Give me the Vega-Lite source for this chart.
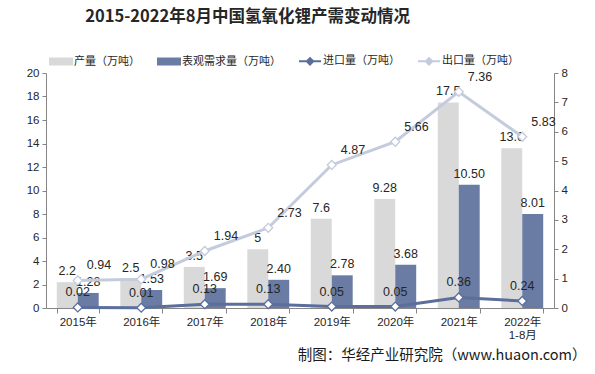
{
  "$schema": "https://vega.github.io/schema/vega-lite/v6.json",
  "width": 508,
  "height": 235,
  "autosize": "none",
  "padding": {"left": 46, "top": 73, "right": 41, "bottom": 66},
  "background": "white",
  "title": {
    "text": "2015-2022年8月中国氢氧化锂产需变动情况",
    "font": "Noto Sans CJK SC",
    "fontSize": 16.5,
    "fontWeight": "bold",
    "color": "#262626",
    "offset": 24,
    "anchor": "start",
    "dx": 59
  },
  "config": {
    "view": {"stroke": null},
    "axis": {
      "grid": false,
      "domainColor": "#868686",
      "tickColor": "#868686",
      "labelFont": "Liberation Sans, Noto Sans CJK SC",
      "labelFontSize": 11.5,
      "labelColor": "#262626",
      "tickSize": 4
    },
    "text": {"font": "Liberation Sans", "fontSize": 12.5, "color": "#262626"}
  },
  "data": {
    "values": [
      {"year": "2015年", "series": "产量（万吨）", "value": 2.2},
      {"year": "2016年", "series": "产量（万吨）", "value": 2.5},
      {"year": "2017年", "series": "产量（万吨）", "value": 3.5},
      {"year": "2018年", "series": "产量（万吨）", "value": 5},
      {"year": "2019年", "series": "产量（万吨）", "value": 7.6},
      {"year": "2020年", "series": "产量（万吨）", "value": 9.28},
      {"year": "2021年", "series": "产量（万吨）", "value": 17.5},
      {"year": "2022年|1-8月", "series": "产量（万吨）", "value": 13.6},
      {"year": "2015年", "series": "表观需求量（万吨）", "value": 1.28},
      {"year": "2016年", "series": "表观需求量（万吨）", "value": 1.53},
      {"year": "2017年", "series": "表观需求量（万吨）", "value": 1.69},
      {"year": "2018年", "series": "表观需求量（万吨）", "value": 2.40},
      {"year": "2019年", "series": "表观需求量（万吨）", "value": 2.78},
      {"year": "2020年", "series": "表观需求量（万吨）", "value": 3.68},
      {"year": "2021年", "series": "表观需求量（万吨）", "value": 10.50},
      {"year": "2022年|1-8月", "series": "表观需求量（万吨）", "value": 8.01},
      {"year": "2015年", "series": "进口量（万吨）", "value": 0.02},
      {"year": "2016年", "series": "进口量（万吨）", "value": 0.01},
      {"year": "2017年", "series": "进口量（万吨）", "value": 0.13},
      {"year": "2018年", "series": "进口量（万吨）", "value": 0.13},
      {"year": "2019年", "series": "进口量（万吨）", "value": 0.05},
      {"year": "2020年", "series": "进口量（万吨）", "value": 0.05},
      {"year": "2021年", "series": "进口量（万吨）", "value": 0.36},
      {"year": "2022年|1-8月", "series": "进口量（万吨）", "value": 0.24},
      {"year": "2015年", "series": "出口量（万吨）", "value": 0.94},
      {"year": "2016年", "series": "出口量（万吨）", "value": 0.98},
      {"year": "2017年", "series": "出口量（万吨）", "value": 1.94},
      {"year": "2018年", "series": "出口量（万吨）", "value": 2.73},
      {"year": "2019年", "series": "出口量（万吨）", "value": 4.87},
      {"year": "2020年", "series": "出口量（万吨）", "value": 5.66},
      {"year": "2021年", "series": "出口量（万吨）", "value": 7.36},
      {"year": "2022年|1-8月", "series": "出口量（万吨）", "value": 5.83}
    ]
  },
  "encoding": {
    "x": {
      "field": "year",
      "type": "nominal",
      "sort": null,
      "scale": {"paddingInner": 0.34, "paddingOuter": 0.17},
      "axis": {
        "labelAngle": 0,
        "labelExpr": "split(datum.label, '|')",
        "tickBand": "extent",
        "tickSize": 5,
        "labelPadding": 3,
        "title": "制图：华经产业研究院（www.huaon.com）",
        "titleFont": "Noto Sans CJK SC",
        "titleFontSize": 14.5,
        "titleFontWeight": "normal",
        "titleColor": "#1a1a1a",
        "titleAnchor": "end",
        "titleAlign": "right",
        "titleBaseline": "middle",
        "titleX": 540,
        "titleY": 47
      }
    },
    "color": {
      "field": "series",
      "type": "nominal",
      "scale": {
        "domain": ["产量（万吨）", "表观需求量（万吨）", "进口量（万吨）", "出口量（万吨）"],
        "range": ["#D9D9D9", "#6A7CA4", "#5B6E9C", "#C3CBDD"]
      },
      "legend": {
        "title": null,
        "orient": "none",
        "legendX": 3,
        "legendY": -24,
        "direction": "horizontal",
        "columns": 4,
        "columnPadding": 14,
        "labelFont": "Noto Sans CJK SC",
        "labelFontSize": 11,
        "labelColor": "#262626",
        "labelOffset": 1,
        "symbolSize": 484,
        "encode": {
          "symbols": {
            "update": {
              "shape": {"signal": "indexof(['进口量（万吨）','出口量（万吨）'], datum.value) >= 0 ? 'M-1,0H-0.3M0.3,0H1M-0.3,0L0,-0.3L0.3,0L0,0.3Z' : 'M-1,-0.27H1V0.27H-1Z'"},
              "fill": {"signal": "datum.value == '产量（万吨）' ? '#D9D9D9' : datum.value == '表观需求量（万吨）' ? '#6A7CA4' : 'white'"},
              "stroke": {"signal": "datum.value == '进口量（万吨）' ? '#5B6E9C' : datum.value == '出口量（万吨）' ? '#C3CBDD' : 'transparent'"},
              "strokeWidth": {"value": 2},
              "opacity": {"value": 1}
            }
          }
        }
      }
    }
  },
  "layer": [
    {
      "transform": [{"filter": "datum.series == '产量（万吨）' || datum.series == '表观需求量（万吨）'"}],
      "encoding": {
        "xOffset": {"field": "series", "type": "nominal", "sort": ["产量（万吨）", "表观需求量（万吨）"], "scale": {"paddingInner": 0, "paddingOuter": 0}},
        "y": {
          "field": "value",
          "type": "quantitative",
          "scale": {"domain": [0, 20]},
          "axis": {"orient": "left", "values": [0, 2, 4, 6, 8, 10, 12, 14, 16, 18, 20], "title": null, "labelPadding": 3}
        }
      },
      "layer": [
        {"mark": {"type": "bar", "opacity": 1}},
        {
          "transform": [{"filter": "datum.series == '产量（万吨）'"}],
          "mark": {"type": "text", "baseline": "bottom", "dy": -4},
          "encoding": {"text": {"field": "value", "type": "quantitative"}, "color": {"value": "#262626"}}
        },
        {
          "transform": [{"filter": "datum.series == '表观需求量（万吨）'"}],
          "mark": {"type": "text", "baseline": "bottom", "dy": -4},
          "encoding": {"text": {"field": "value", "type": "quantitative", "format": ".2f"}, "color": {"value": "#262626"}}
        }
      ]
    },
    {
      "transform": [{"filter": "datum.series == '进口量（万吨）' || datum.series == '出口量（万吨）'"}],
      "encoding": {
        "y": {
          "field": "value",
          "type": "quantitative",
          "scale": {"domain": [0, 8]},
          "axis": {"orient": "right", "values": [0, 1, 2, 3, 4, 5, 6, 7, 8], "title": null, "labelPadding": 3}
        }
      },
      "layer": [
        {"mark": {"type": "line", "strokeWidth": 3}},
        {"mark": {"type": "point", "shape": "diamond", "filled": false, "fill": "white", "fillOpacity": 1, "opacity": 1, "size": 80, "strokeWidth": 1.3}},
        {
          "transform": [{"filter": "datum.series == '进口量（万吨）'"}],
          "mark": {"type": "text", "baseline": "bottom", "dy": -8},
          "encoding": {"text": {"field": "value", "type": "quantitative", "format": ".2f"}, "color": {"value": "#262626"}}
        },
        {
          "transform": [{"filter": "datum.series == '出口量（万吨）'"}],
          "mark": {"type": "text", "baseline": "middle", "align": "left", "dx": 9, "dy": -15},
          "encoding": {"text": {"field": "value", "type": "quantitative", "format": ".2f"}, "color": {"value": "#262626"}}
        }
      ]
    }
  ],
  "resolve": {"scale": {"y": "independent"}}
}
